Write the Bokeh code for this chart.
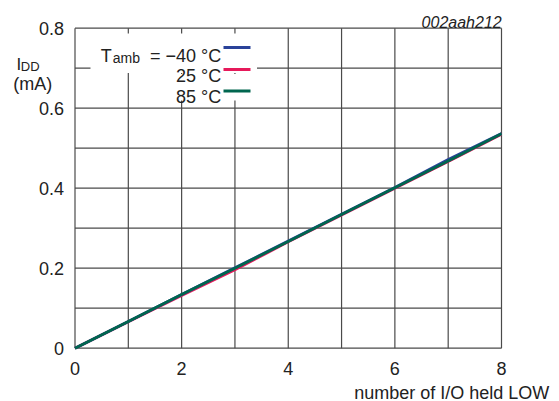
from bokeh.plotting import figure
from bokeh.models import Range1d, FixedTicker, Label, LinearAxis
from bokeh.embed import file_html
from bokeh.resources import INLINE

# ---- data ----
n_io = [0, 1, 2, 3, 4, 5, 6, 7, 8]
idd_m40 = [0, 0.067, 0.134, 0.201, 0.268, 0.335, 0.402, 0.472, 0.537]
idd_25 = [0, 0.066, 0.132, 0.196, 0.266, 0.333, 0.400, 0.467, 0.535]
idd_85 = [0, 0.067, 0.134, 0.200, 0.267, 0.334, 0.401, 0.468, 0.536]
series_labels = ["\u221240 \u00b0C", "25 \u00b0C", "85 \u00b0C"]
series_colors = ["#2a4299", "#e6195a", "#00664f"]
x_ticks = [0, 2, 4, 6, 8]
y_ticks = [0, 0.2, 0.4, 0.6, 0.8]
x_grid = [0, 1, 2, 3, 4, 5, 6, 7, 8]
y_grid = [0, 0.1, 0.2, 0.3, 0.4, 0.5, 0.6, 0.7, 0.8]
X_MIN, X_MAX = 0, 8
Y_MIN, Y_MAX = 0, 0.8

# ---- layout (pixels) ----
W, H = 555, 401
FL, FR, FT, FB = 74.5, 501.0, 27.7, 347.7   # plot-area edges
SX = (FR - FL) / (X_MAX - X_MIN)
SY = (FB - FT) / (Y_MAX - Y_MIN)

def dx(px):
    return X_MIN + (px - FL) / SX

def dy(py):
    return Y_MIN + (FB - py) / SY

FONT = "Liberation Sans"
GRID = "#4a4a4a"
TXT = "#222222"

p = figure(width=W, height=H, min_border=0,
           x_range=Range1d(dx(0), dx(W)), y_range=Range1d(dy(H), dy(0)),
           x_axis_location=None, y_axis_location=None,
           output_backend="svg", toolbar_location=None,
           background_fill_color="white", border_fill_color="white")
p.outline_line_color = None
for g in p.grid:
    g.visible = False

# grid (incl. plot-area border)
p.segment(x0=x_grid, x1=x_grid, y0=[Y_MIN] * len(x_grid), y1=[Y_MAX] * len(x_grid),
          line_color=GRID, line_width=1.2)
p.segment(x0=[X_MIN] * len(y_grid), x1=[X_MAX] * len(y_grid), y0=y_grid, y1=y_grid,
          line_color=GRID, line_width=1.2)

# white background behind the legend (covers grid)
p.quad(left=[dx(90), dx(140)], right=[dx(256.5), dx(256.5)],
       top=[dy(33), dy(73.5)], bottom=[dy(72.5), dy(100)],
       fill_color="white", line_color=None)

# data lines
p.line(n_io, idd_25, line_color=series_colors[1], line_width=2.8)
p.line(n_io, idd_m40, line_color=series_colors[0], line_width=2.8)
p.line(n_io, idd_85, line_color=series_colors[2], line_width=2.8)

# axes with tick labels
xax = LinearAxis(fixed_location=Y_MIN, ticker=FixedTicker(ticks=x_ticks))
yax = LinearAxis(fixed_location=X_MIN, ticker=FixedTicker(ticks=y_ticks))
for ax, standoff in ((xax, 14), (yax, 11)):
    ax.axis_line_color = None
    ax.major_tick_line_color = None
    ax.minor_tick_line_color = None
    ax.major_tick_in = 0
    ax.major_tick_out = 0
    ax.minor_tick_in = 0
    ax.minor_tick_out = 0
    ax.major_label_text_font = FONT
    ax.major_label_text_font_size = "18px"
    ax.major_label_text_color = TXT
    ax.major_label_standoff = standoff
xax.major_label_overrides = {0: "0", 2: "2", 4: "4", 6: "6", 8: "8"}
yax.major_label_overrides = {0: "0", 0.2: "0.2", 0.4: "0.4", 0.6: "0.6", 0.8: "0.8"}
p.add_layout(xax, "below")
p.add_layout(yax, "left")

# legend marks
leg_py = [47, 69, 90.5]
p.segment(x0=[dx(223)] * 3, x1=[dx(250)] * 3, y0=[dy(v) for v in leg_py],
          y1=[dy(v) for v in leg_py], line_color=series_colors, line_width=3)

def lab(px, py, text, size="18px", align="left", style="normal"):
    p.add_layout(Label(x=dx(px), y=dy(py), text=text, text_font=FONT, text_font_size=size,
                       text_align=align, text_baseline="alphabetic",
                       text_color=TXT, text_font_style=style))

base_py = [55, 75.3, 96.6]
for t, py in zip(series_labels, base_py):
    lab(220.8, py, ("= " + t) if t.startswith("\u2212") else t, align="right")
lab(100.3, 55, "T")
lab(112.3, 57.8, "amb", size="14px")

# y-axis title
lab(16.0, 64.0, "I", size="17px")
lab(20.3, 66.3, "DD", size="13px")
lab(32.2, 83.0, "(mA)", align="center")

# x-axis title
lab(548.8, 392.0, "number of I/O held LOW", align="right")

# figure id
lab(501.2, 21.7, "002aah212", size="16px", align="right", style="italic")

open("out.html", "w").write(file_html(p, INLINE))
